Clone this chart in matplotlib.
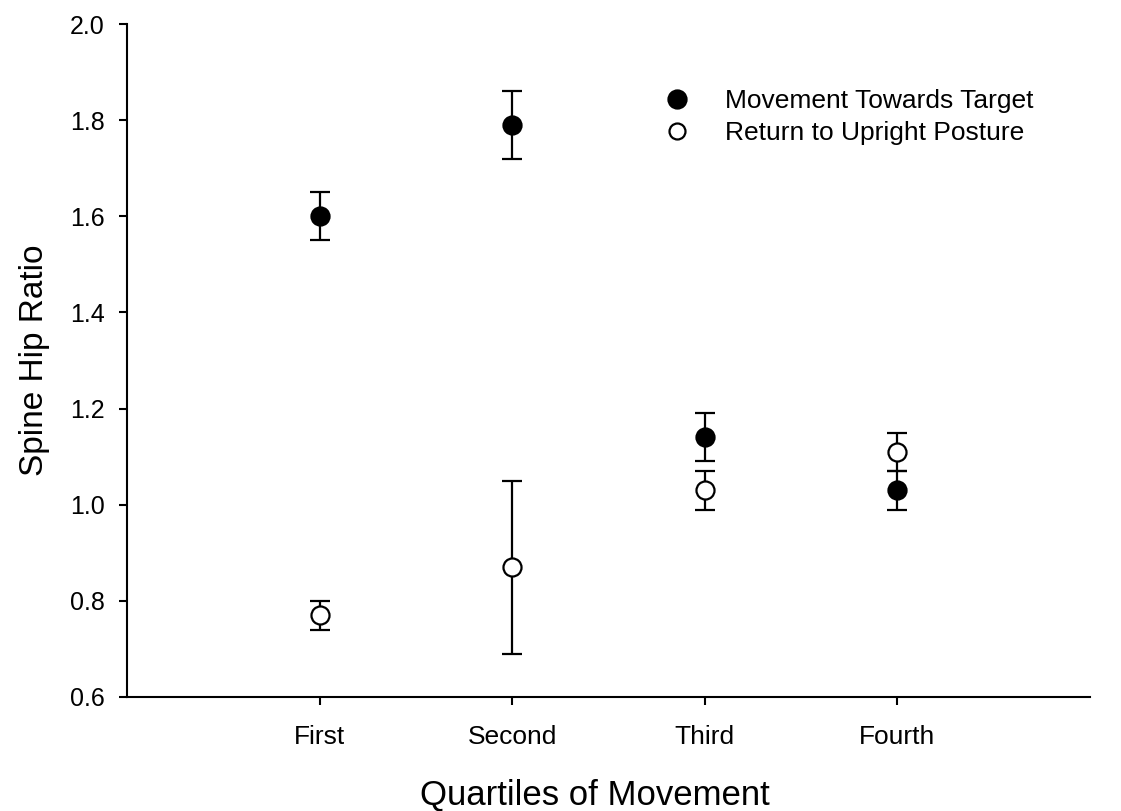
import matplotlib
matplotlib.use("Agg")
import matplotlib.pyplot as plt
from matplotlib.lines import Line2D

plt.rcParams['font.family'] = ['Liberation Sans', 'DejaVu Sans']

categories = ["First", "Second", "Third", "Fourth"]
toward_mean = [1.60, 1.79, 1.14, 1.03]
toward_err = [0.05, 0.07, 0.05, 0.04]
return_mean = [0.77, 0.87, 1.03, 1.11]
return_err = [0.03, 0.18, 0.04, 0.04]
series_labels = ["Movement Towards Target", "Return to Upright Posture"]

fig = plt.figure(figsize=(11.21, 8.11), dpi=100)
ax = fig.add_axes([0.1133, 0.1406, 0.8591, 0.8298])

x = list(range(1, len(categories) + 1))
common = dict(fmt='o', color='black', ecolor='black', elinewidth=1.6,
              capsize=7.5, capthick=1.6, markersize=13, markeredgewidth=1.6)
ax.errorbar(x, return_mean, yerr=return_err, markerfacecolor='white',
            markeredgecolor='black', zorder=3, **common)
ax.errorbar(x, toward_mean, yerr=toward_err, markerfacecolor='black',
            markeredgecolor='black', zorder=4, **common)

ax.set_xlim(0, 5)
ax.set_ylim(0.6, 2.0)
ax.set_xticks(x)
ax.set_xticklabels(categories)
ax.set_yticks([0.6, 0.8, 1.0, 1.2, 1.4, 1.6, 1.8, 2.0])
ax.set_yticklabels(["0.6", "0.8", "1.0", "1.2", "1.4", "1.6", "1.8", "2.0"])
ax.tick_params(axis='both', direction='out', length=6, width=1.5)
ax.tick_params(axis='y', pad=10, labelsize=18)
ax.tick_params(axis='x', pad=14, labelsize=19)
for s in ['top', 'right']:
    ax.spines[s].set_visible(False)
for s in ['left', 'bottom']:
    ax.spines[s].set_linewidth(1.5)

ax.set_xlabel("Quartiles of Movement", fontsize=25)
ax.xaxis.set_label_coords(0.486, -0.122)
ax.set_ylabel("Spine Hip Ratio", fontsize=24, labelpad=14)

handles = [
    Line2D([], [], marker='o', linestyle='none', markersize=13,
           markerfacecolor='black', markeredgecolor='black', markeredgewidth=1.6),
    Line2D([], [], marker='o', linestyle='none', markersize=11.5,
           markerfacecolor='white', markeredgecolor='black', markeredgewidth=1.6),
]
ax.legend(handles, series_labels, loc='upper left', bbox_to_anchor=(0.5437, 0.903),
          frameon=False, fontsize=19, handlelength=2.0, handletextpad=0.82,
          labelspacing=0.3, borderpad=0, borderaxespad=0)

fig.savefig("out.png", dpi=100, facecolor='white')
